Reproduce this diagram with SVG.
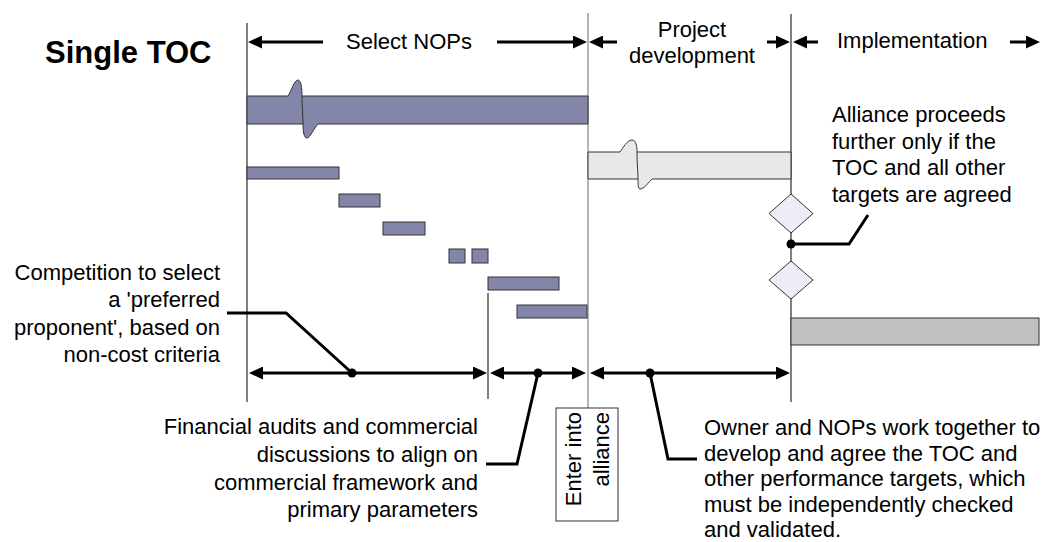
<svg xmlns="http://www.w3.org/2000/svg" width="1053" height="542" viewBox="0 0 1053 542">
  <defs>
    <marker id="head" viewBox="0 0 14 13" refX="4" refY="6.5" markerWidth="14" markerHeight="13" markerUnits="userSpaceOnUse" orient="auto-start-reverse">
      <path d="M0,0 L14,6.5 L0,13 Z" fill="#000"/>
    </marker>
  </defs>
  <style>
    text { font-family: "Liberation Sans", Arial, sans-serif; font-size: 22px; fill: #000; }
    .title { font-size: 31px; font-weight: bold; }
    .mid { text-anchor: middle; }
    .end { text-anchor: end; }
    .phase { fill: none; stroke: #000; stroke-width: 3; marker-end: url(#head); }
    .span { fill: none; stroke: #000; stroke-width: 3; marker-start: url(#head); marker-end: url(#head); }
    .lead { fill: none; stroke: #000; stroke-width: 3; stroke-linejoin: miter; }
    .grid { stroke: #000; stroke-width: 1; }
    .grid2 { stroke: #6a6a6a; stroke-width: 1; }
    .task { fill: #8385a9; stroke: #333; stroke-width: 1; }
    .dev { fill: #e8e8e8; stroke: #333; stroke-width: 1; }
    .impl { fill: #c0c0c0; stroke: #333; stroke-width: 1; }
    .gate { fill: #ededf5; stroke: #333; stroke-width: 1; }
    .dot { fill: #000; }
  </style>
  <rect width="1053" height="542" fill="#fff"/>

  <!-- phase boundaries -->
  <g id="boundaries">
    <line class="grid" x1="247" y1="23" x2="247" y2="402"/>
    <line class="grid2" x1="588" y1="13" x2="588" y2="408"/>
    <line class="grid" x1="791" y1="14" x2="791" y2="402"/>
    <line class="grid" x1="488" y1="293" x2="488" y2="399"/>
  </g>

  <text id="title" class="title" x="45" y="63">Single TOC</text>

  <!-- phase headings -->
  <g id="phase-select">
    <text class="mid" x="409" y="49">Select NOPs</text>
  </g>
  <g id="phase-develop">
    <text class="mid" x="692" y="37">Project</text>
    <text class="mid" x="692" y="63">development</text>
  </g>
  <g id="phase-implement">
    <text x="837" y="48">Implementation</text>
  </g>

  <!-- schedule bars -->
  <g id="bar-select">
    <path class="task" d="M247,96 H288 C291,92 294,80 298,80 C301,80 302,88 302,96 H588 V124 H318 C314,128 310,138 307,138 C304,138 303,132 303,124 H247 Z"/>
    <path fill="none" stroke="#333" stroke-width="1" d="M302,96 C302,108 303,116 303,124"/>
  </g>
  <g id="tasks">
    <rect class="task" x="247" y="167" width="92" height="12"/>
    <rect class="task" x="339" y="194" width="41" height="13"/>
    <rect class="task" x="383" y="222" width="42" height="13"/>
    <rect class="task" x="449" y="249" width="16" height="14"/>
    <rect class="task" x="472" y="249" width="16" height="14"/>
    <rect class="task" x="488" y="277" width="71" height="13"/>
    <rect class="task" x="517" y="305" width="70" height="13"/>
  </g>
  <g id="bar-develop">
    <path class="dev" d="M588,152 H620 C623,148 627,140 632,140 C636,140 637,146 637,152 H791 V179 H652 C648,183 644,189 640,189 C638,189 638,184 638,179 H588 Z"/>
    <path fill="none" stroke="#333" stroke-width="1" d="M637,152 C637,163 638,172 638,179"/>
  </g>
  <g id="gate-1">
    <polygon class="gate" points="791,194 813,213.5 791,233 769,213.5"/>
  </g>
  <g id="gate-2">
    <polygon class="gate" points="791,261 813,280 791,299 769,280"/>
  </g>
  <g id="bar-implement">
    <rect class="impl" x="791" y="318" width="248" height="27"/>
  </g>

  <!-- alliance milestone -->
  <g id="enter-alliance">
    <rect x="556" y="408" width="62" height="113" fill="#fff" stroke="#333" stroke-width="1"/>
    <text class="end" transform="translate(581,412) rotate(-90)">Enter into</text>
    <text class="end" transform="translate(609,412) rotate(-90)">alliance</text>
  </g>

  <!-- annotations -->
  <g id="note-competition">
    <text class="end" x="220" y="280">Competition to select</text>
    <text class="end" x="220" y="307">a 'preferred</text>
    <text class="end" x="220" y="335">proponent', based on</text>
    <text class="end" x="220" y="362">non-cost criteria</text>
  </g>
  <g id="note-audits">
    <text class="end" x="478" y="434">Financial audits and commercial</text>
    <text class="end" x="478" y="462">discussions to align on</text>
    <text class="end" x="478" y="490">commercial framework and</text>
    <text class="end" x="478" y="517">primary parameters</text>
  </g>
  <g id="note-targets">
    <text x="704" y="435">Owner and NOPs work together to</text>
    <text x="704" y="460.5">develop and agree the TOC and</text>
    <text x="704" y="486">other performance targets, which</text>
    <text x="704" y="511.5">must be independently checked</text>
    <text x="704" y="537">and validated.</text>
  </g>
  <g id="note-gate">
    <text x="832" y="122">Alliance proceeds</text>
    <text x="832" y="148.5">further only if the</text>
    <text x="832" y="175">TOC and all other</text>
    <text x="832" y="201.5">targets are agreed</text>
  </g>

  <!-- connectors: phase arrows, duration spans and callout leaders -->
  <g id="connectors">
    <path class="phase" d="M323,42 H258"/>
    <path class="phase" d="M497,42 H577"/>
    <path class="phase" d="M617,42 H599"/>
    <path class="phase" d="M767,42 H780"/>
    <path class="phase" d="M818,42 H803"/>
    <path class="phase" d="M1010,42 H1030"/>

    <path class="span" d="M259,373 H477"/>
    <path class="span" d="M500,373 H576"/>
    <path class="span" d="M600,373 H780"/>

    <path class="lead" d="M227,313 H286 L352,373"/>
    <path class="lead" d="M538,373 L517,464 H486"/>
    <path class="lead" d="M650,373 L668,459 H697"/>
    <path class="lead" d="M791,244 H849 L868,215"/>
    <circle class="dot" cx="352" cy="373" r="4.5"/>
    <circle class="dot" cx="538" cy="373" r="4.5"/>
    <circle class="dot" cx="650" cy="373" r="4.5"/>
    <circle class="dot" cx="791" cy="244" r="4.5"/>
  </g>
</svg>
